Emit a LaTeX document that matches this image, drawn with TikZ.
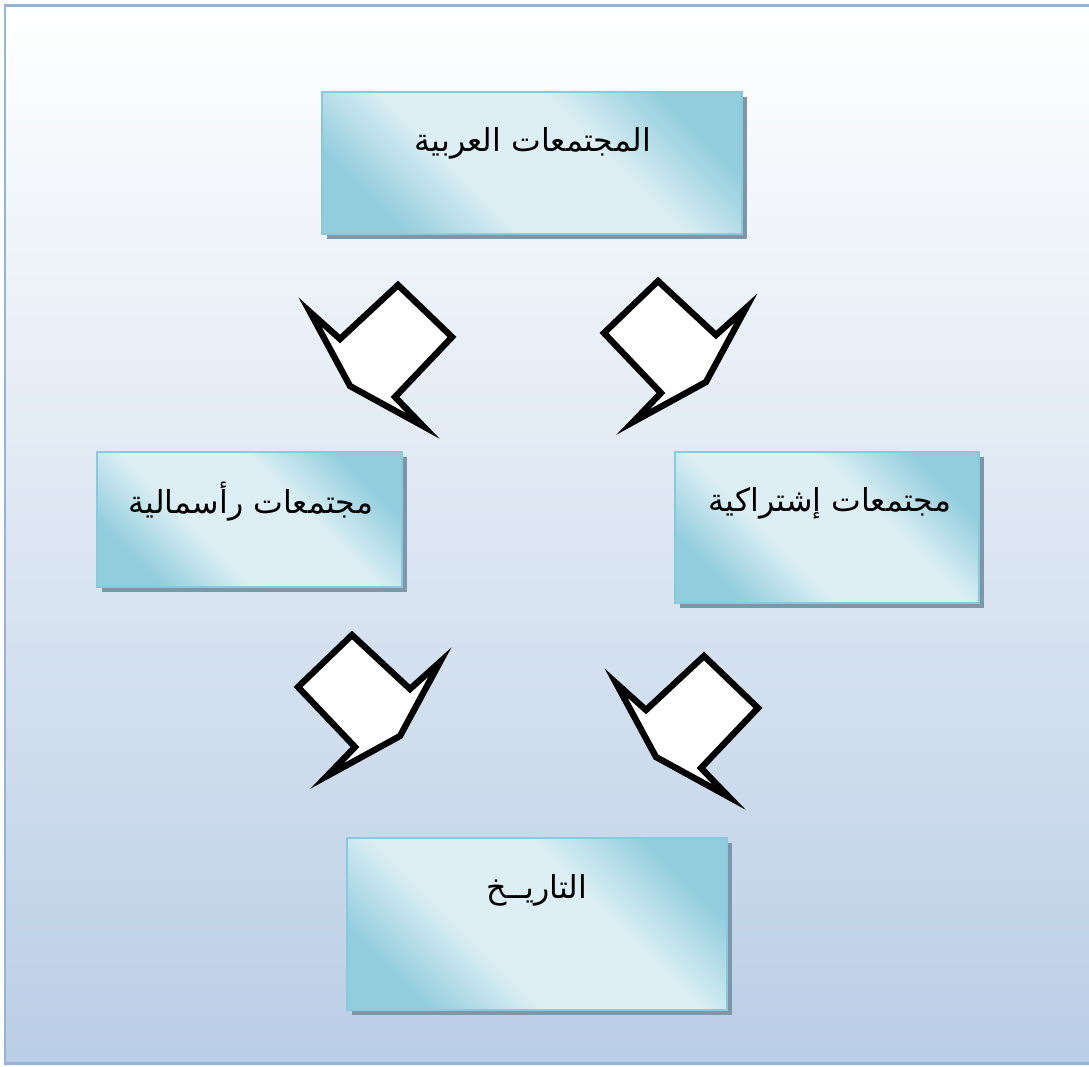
\documentclass[tikz,border=0pt]{standalone}
\usepackage{fontspec}
\newfontfamily\arabicfont[Script=Arabic]{DejaVu Sans}
\TeXXeTstate=1
\usetikzlibrary{calc}
\definecolor{framebg}{RGB}{186,206,230}
\definecolor{frameline}{RGB}{149,179,215}
\definecolor{boxdark}{RGB}{146,205,221}
\definecolor{boxlight}{RGB}{221,239,244}
\definecolor{boxline}{RGB}{138,200,220}
\definecolor{boxshade}{RGB}{127,150,168}
\pgfdeclareverticalshading{boxshading}{100bp}{color(0bp)=(boxdark); color(25bp)=(boxdark); color(40bp)=(boxlight); color(60bp)=(boxlight); color(75bp)=(boxdark); color(100bp)=(boxdark)}
\tikzset{
	boxtext/.style={font=\arabicfont\fontsize{18}{21}\selectfont, inner sep=0pt},
	blockarrow/.style={draw=black, fill=white, line width=3.6pt, line join=miter},
}
\def\shadowbox(#1,#2)(#3,#4){
	\fill[boxshade] (#1+5,#2+5) rectangle (#3+5,#4+5);
	\draw[draw=boxline, line width=1.2pt, shade, shading=boxshading, shading angle=-45] (#1,#2) rectangle (#3,#4);}
\def\bentarrow[#1](#2){\draw[blockarrow, shift={(#2)}, #1] (0,0) -- (54,52) -- (-3,112) -- (25,141) -- (-48,101) -- (-88,27) -- (-58,54) -- cycle;}

\begin{document}
\begin{tikzpicture}[x=0.02cm, y=-0.02cm]
		%%%%% FRAME %%%%%
		\useasboundingbox (0,0) rectangle (1089,1066);
		\fill[white] (0,0) rectangle (1089,1066);
		\begin{scope}
			\clip (0,0) rectangle (1089,1066);
			\shade[top color=white, bottom color=framebg] (5,5) rectangle (1100,1063);
			\draw[frameline, line width=1.7pt] (5,5) rectangle (1100,1063);
		\end{scope}
		
		%%%%% BOXES %%%%%
		\shadowbox(322,92)(742,234)
		\node[boxtext] (arab) at (533,143) {\beginR المجتمعات العربية\endR};
		
		\shadowbox(97,452)(402,587)
		\node[boxtext] (capital) at (251,502) {\beginR مجتمعات رأسمالية\endR};
		
		\shadowbox(675,452)(979,603)
		\node[boxtext] (social) at (830,503) {\beginR مجتمعات إشتراكية\endR};
		
		\shadowbox(347,838)(727,1010)
		\node[boxtext] (history) at (537,890) {\beginR التاريــخ\endR};
		
		%%%%% ARROWS %%%%%
		\bentarrow[](398,285)
		\bentarrow[xscale=-1](658,281)
		\bentarrow[xscale=-1](352,635)
		\bentarrow[](704,656)
	\end{tikzpicture}
\end{document}
